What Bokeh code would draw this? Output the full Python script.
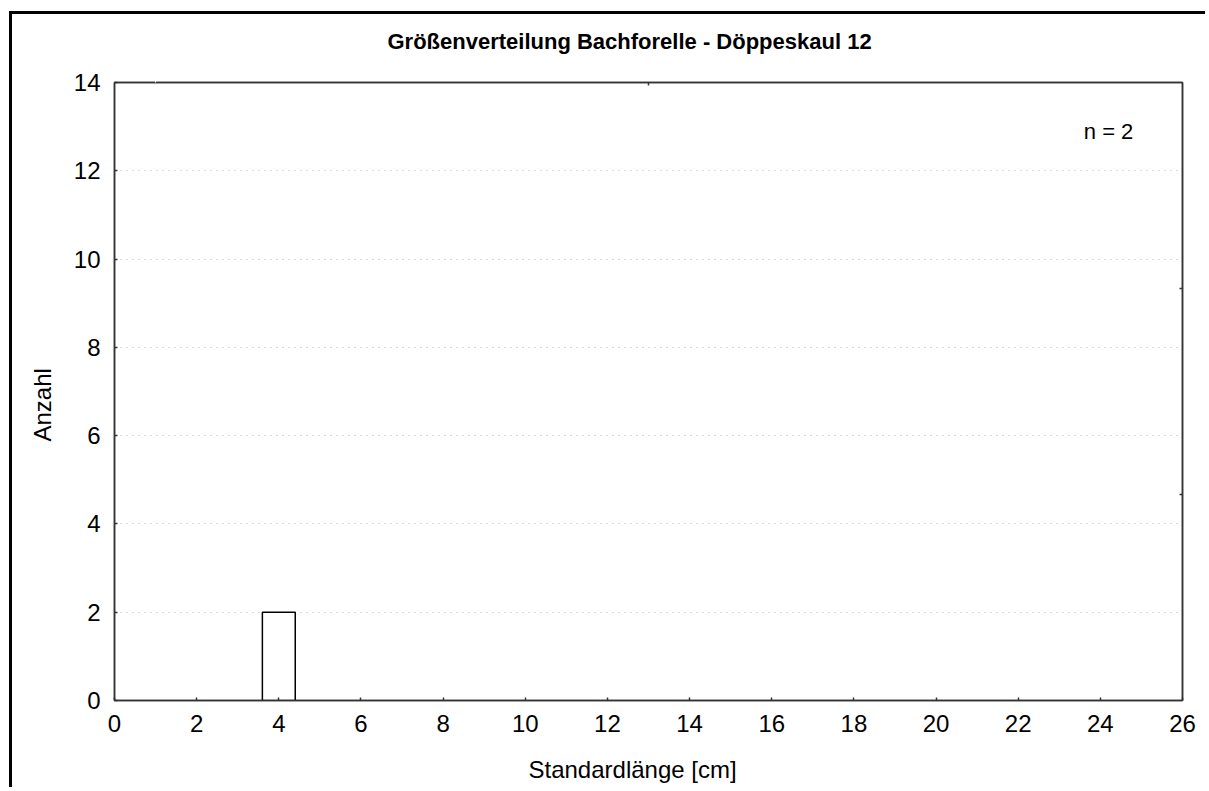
from bokeh.plotting import figure
from bokeh.models import Range1d, LinearAxis, FixedTicker, Label, Title
from bokeh.embed import file_html
from bokeh.resources import INLINE

# Histogram data: standard length classes (cm) and fish counts
length_centers = [4.0]
counts = [2]
bin_width = 0.8
n_total = 2

title_text = "Größenverteilung Bachforelle - Döppeskaul 12"
x_label = "Standardlänge [cm]"
y_label = "Anzahl"
x_ticks = list(range(0, 27, 2))
y_ticks = list(range(0, 15, 2))
grid_ticks = list(range(2, 13, 2))

FONT = "Liberation Sans"
AXIS_COLOR = "#333333"

p = figure(
    width=1196, height=776,
    output_backend="svg", toolbar_location=None,
    x_range=Range1d(0, 26), y_range=Range1d(0, 14),
    min_border_left=102, min_border_right=26,
    min_border_top=68, min_border_bottom=90,
    background_fill_color="white", border_fill_color="white",
)
p.styles = {
    "border-left": "3px solid black",
    "border-top": "3px solid black",
    "margin-left": "9px",
    "margin-top": "11px",
}

p.outline_line_color = AXIS_COLOR
p.outline_line_width = 1.5

# Bars
lefts = [c - bin_width / 2 for c in length_centers]
rights = [c + bin_width / 2 for c in length_centers]
p.quad(left=lefts, right=rights, bottom=0, top=counts,
       fill_color="white", line_color="black", line_width=1.5)

# Grid: dotted horizontal lines only
p.xgrid.visible = False
p.ygrid.ticker = FixedTicker(ticks=grid_ticks)
p.ygrid.grid_line_color = "#b8b8b8"
p.ygrid.grid_line_dash = "1 5"
p.ygrid.grid_line_width = 1.2

def style_axis(ax):
    ax.axis_line_color = AXIS_COLOR
    ax.axis_line_width = 1.5
    ax.major_tick_line_color = AXIS_COLOR
    ax.major_tick_line_width = 1.5
    ax.major_tick_in = 3
    ax.major_tick_out = 0
    ax.minor_tick_line_color = None
    ax.major_label_text_font = FONT
    ax.major_label_text_font_size = "24px"
    ax.major_label_text_color = "black"

def spacer_axis(size):
    # blank axis (white tick on white border) that only reserves room
    # in a side panel, between the frame axis and a title
    ax = LinearAxis(ticker=FixedTicker(ticks=[1]))
    ax.axis_line_color = None
    ax.major_tick_line_color = "white"
    ax.major_tick_line_width = 1
    ax.minor_tick_line_color = None
    ax.major_tick_in = 0
    ax.major_tick_out = size
    ax.major_label_standoff = 0
    ax.major_label_overrides = {1: ""}
    return ax

xa = p.xaxis[0]
style_axis(xa)
xa.ticker = FixedTicker(ticks=x_ticks)
xa.major_label_standoff = 14

ya = p.yaxis[0]
style_axis(ya)
ya.ticker = FixedTicker(ticks=y_ticks)
ya.major_label_standoff = 14

# Top and right frame axes: ticks only, no labels
top_ticks = [13]
right_ticks = [14 / 3, 28 / 3]
top = LinearAxis(ticker=FixedTicker(ticks=top_ticks))
style_axis(top)
top.major_label_overrides = {t: "" for t in top_ticks}
top.major_label_standoff = 0
p.add_layout(top, "above")
p.add_layout(spacer_axis(29), "above")

right = LinearAxis(ticker=FixedTicker(ticks=right_ticks))
style_axis(right)
right.major_label_overrides = {t: "" for t in right_ticks}
p.add_layout(right, "right")

# Chart title
p.title.text = title_text
p.title.align = "left"
p.title.offset = 273
p.title.text_font = FONT
p.title.text_font_size = "22px"
p.title.text_font_style = "bold"
p.title.text_color = "black"
p.title.standoff = 0

# Axis titles, placed as side titles so they can be shifted along the axis
p.add_layout(spacer_axis(19), "below")
p.add_layout(Title(text=x_label, align="left", offset=414, standoff=0,
                   text_font=FONT, text_font_size="24px",
                   text_font_style="normal", text_color="black"), "below")
p.add_layout(Title(text=y_label, align="left", offset=259, standoff=29,
                   text_font=FONT, text_font_size="24px",
                   text_font_style="normal", text_color="black"), "left")

# Sample size
p.add_layout(Label(x=24.2, y=12.9, text=f"n = {n_total}", text_align="center",
                   text_baseline="middle", text_font=FONT,
                   text_font_size="22px", text_color="black"))

open("out.html", "w").write(file_html(p, INLINE))
